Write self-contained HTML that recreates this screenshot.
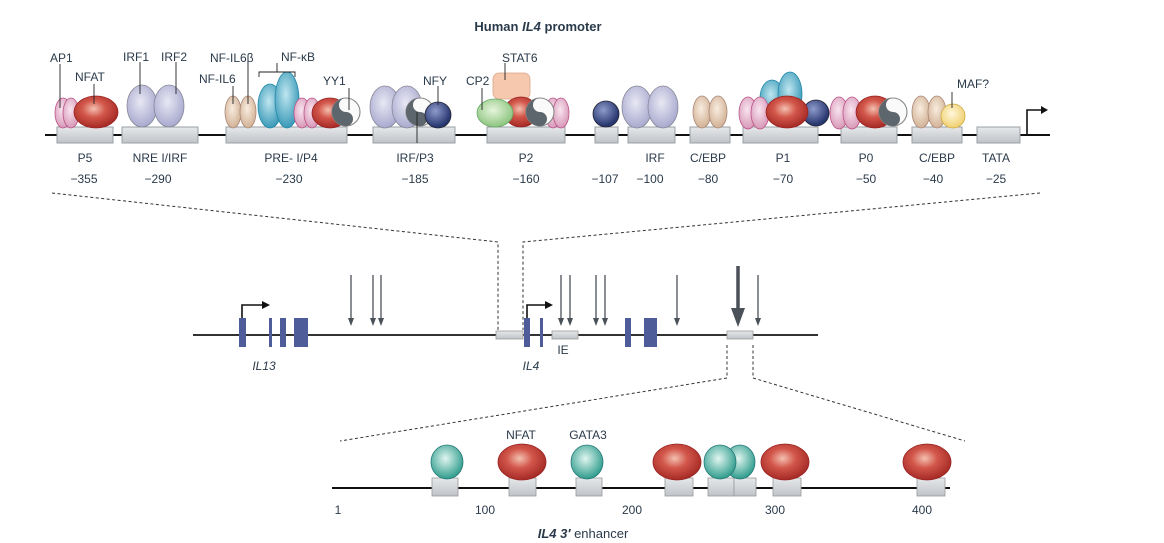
<!DOCTYPE html>
<html><head><meta charset="utf-8"><style>
html,body{margin:0;padding:0;background:#fff}
svg{display:block}
text{font-family:"Liberation Sans",sans-serif;fill:#2a3a4a}
</style></head><body>
<svg width="1164" height="543" viewBox="0 0 1164 543" xmlns="http://www.w3.org/2000/svg">
<defs>
<radialGradient id="red" cx="45%" cy="40%" r="60%"><stop offset="0" stop-color="#f3c0b0"/><stop offset="0.45" stop-color="#d2564a"/><stop offset="1" stop-color="#a52a25"/></radialGradient>
<radialGradient id="pink" cx="45%" cy="40%" r="60%"><stop offset="0" stop-color="#f8e4ef"/><stop offset="1" stop-color="#d899b8"/></radialGradient>
<radialGradient id="lav" cx="45%" cy="40%" r="60%"><stop offset="0" stop-color="#e8e8f4"/><stop offset="1" stop-color="#a9a9cf"/></radialGradient>
<radialGradient id="tan" cx="45%" cy="40%" r="60%"><stop offset="0" stop-color="#f8ecdf"/><stop offset="1" stop-color="#d2b296"/></radialGradient>
<radialGradient id="blue" cx="45%" cy="40%" r="60%"><stop offset="0" stop-color="#bfe6f0"/><stop offset="1" stop-color="#3b9ab8"/></radialGradient>
<radialGradient id="navy" cx="40%" cy="35%" r="60%"><stop offset="0" stop-color="#8d9acb"/><stop offset="1" stop-color="#27376f"/></radialGradient>
<radialGradient id="green" cx="45%" cy="40%" r="60%"><stop offset="0" stop-color="#e6f5dc"/><stop offset="1" stop-color="#8cc47e"/></radialGradient>
<radialGradient id="yel" cx="45%" cy="40%" r="60%"><stop offset="0" stop-color="#fff8dc"/><stop offset="1" stop-color="#f1cf6f"/></radialGradient>
<radialGradient id="teal" cx="45%" cy="40%" r="60%"><stop offset="0" stop-color="#e0f5f0"/><stop offset="1" stop-color="#2f9c8c"/></radialGradient>
<linearGradient id="box" x1="0" y1="0" x2="0" y2="1"><stop offset="0" stop-color="#e6e8ea"/><stop offset="1" stop-color="#bfc3c7"/></linearGradient>
<g id="yy"><circle r="1" fill="#fafafa" stroke="#888" stroke-width="0.08"/><path d="M0,-1 A1,1 0 0,0 0,1 A0.5,0.5 0 0,0 0,0 A0.5,0.5 0 0,1 0,-1Z" fill="#5d666c"/></g>
</defs>

<text x="538" y="31" font-size="13" font-weight="bold" text-anchor="middle" fill="#111">Human <tspan font-style="italic">IL4</tspan> promoter</text>

<!-- promoter line -->
<line x1="45" y1="135" x2="1050" y2="135" stroke="#111" stroke-width="2"/>
<g fill="url(#box)" stroke="#9aa0a5" stroke-width="1">
<rect x="57" y="127" width="56" height="16"/><rect x="122" y="127" width="76" height="16"/><rect x="226" y="127" width="121" height="16"/>
<rect x="373" y="127" width="82" height="16"/><rect x="487" y="127" width="78" height="16"/><rect x="595" y="127" width="23" height="16"/>
<rect x="628" y="127" width="47" height="16"/><rect x="690" y="127" width="40" height="16"/><rect x="743" y="127" width="75" height="16"/>
<rect x="841" y="127" width="56" height="16"/><rect x="912" y="127" width="50" height="16"/><rect x="977" y="127" width="43" height="16"/>
</g>
<path d="M1027,135 V110 H1043" fill="none" stroke="#111" stroke-width="1.6"/><path d="M1041,106 L1048,110 L1041,114Z" fill="#111"/>

<g stroke-width="0.8">
<!-- P5 -->
<ellipse cx="63" cy="113" rx="8" ry="15" fill="url(#pink)" stroke="#b58"/>
<ellipse cx="71" cy="113" rx="8" ry="15" fill="url(#pink)" stroke="#b58"/>
<ellipse cx="96" cy="112" rx="22" ry="16" fill="url(#red)" stroke="#922"/>
<!-- NRE -->
<ellipse cx="142" cy="106" rx="15" ry="21" fill="url(#lav)" stroke="#889"/>
<ellipse cx="169" cy="106" rx="15" ry="21" fill="url(#lav)" stroke="#889"/>
<!-- PRE -->
<ellipse cx="233" cy="112" rx="8" ry="16" fill="url(#tan)" stroke="#a87"/>
<ellipse cx="248" cy="112" rx="8" ry="16" fill="url(#tan)" stroke="#a87"/>
<ellipse cx="270" cy="106" rx="12" ry="22" fill="url(#blue)" stroke="#28a"/>
<ellipse cx="287" cy="100" rx="12" ry="28" fill="url(#blue)" stroke="#28a"/>
<ellipse cx="302" cy="113" rx="8" ry="15" fill="url(#pink)" stroke="#b58"/>
<ellipse cx="312" cy="113" rx="8" ry="15" fill="url(#pink)" stroke="#b58"/>
<ellipse cx="330" cy="113" rx="18" ry="15" fill="url(#red)" stroke="#922"/>
<use href="#yy" transform="translate(346,112) scale(14)"/>
<!-- IRF/P3 -->
<ellipse cx="385" cy="107" rx="15" ry="21" fill="url(#lav)" stroke="#889"/>
<ellipse cx="407" cy="107" rx="15" ry="21" fill="url(#lav)" stroke="#889"/>
<use href="#yy" transform="translate(420,112) scale(14)"/>
<circle cx="438" cy="115" r="13" fill="url(#navy)" stroke="#223"/>
<!-- P2 -->
<rect x="493" y="73" width="37" height="26" rx="6" fill="#f6c8ae" stroke="#d9a58a"/>
<ellipse cx="553" cy="113" rx="8" ry="15" fill="url(#pink)" stroke="#b58"/>
<ellipse cx="561" cy="113" rx="8" ry="15" fill="url(#pink)" stroke="#b58"/>
<ellipse cx="521" cy="112" rx="17" ry="15" fill="url(#red)" stroke="#922"/>
<use href="#yy" transform="translate(540,112) scale(14)"/>
<ellipse cx="495" cy="113" rx="18" ry="14" fill="url(#green)" stroke="#6a6"/>
<!-- -107 -->
<circle cx="606" cy="114" r="13" fill="url(#navy)" stroke="#223"/>
<!-- IRF -->
<ellipse cx="637" cy="107" rx="15" ry="21" fill="url(#lav)" stroke="#889"/>
<ellipse cx="663" cy="107" rx="15" ry="21" fill="url(#lav)" stroke="#889"/>
<!-- C/EBP -->
<ellipse cx="702" cy="112" rx="9" ry="16" fill="url(#tan)" stroke="#a87"/>
<ellipse cx="718" cy="112" rx="9" ry="16" fill="url(#tan)" stroke="#a87"/>
<!-- P1 -->
<ellipse cx="772" cy="98" rx="12" ry="18" fill="url(#blue)" stroke="#28a"/>
<ellipse cx="790" cy="94" rx="12" ry="22" fill="url(#blue)" stroke="#28a"/>
<ellipse cx="748" cy="113" rx="9" ry="16" fill="url(#pink)" stroke="#b58"/>
<ellipse cx="760" cy="113" rx="9" ry="16" fill="url(#pink)" stroke="#b58"/>
<circle cx="816" cy="113" r="13" fill="url(#navy)" stroke="#223"/>
<ellipse cx="787" cy="112" rx="21" ry="16" fill="url(#red)" stroke="#922"/>
<!-- P0 -->
<ellipse cx="839" cy="113" rx="9" ry="16" fill="url(#pink)" stroke="#b58"/>
<ellipse cx="852" cy="113" rx="9" ry="16" fill="url(#pink)" stroke="#b58"/>
<ellipse cx="875" cy="112" rx="19" ry="16" fill="url(#red)" stroke="#922"/>
<use href="#yy" transform="translate(893,112) scale(14)"/>
<!-- C/EBP -->
<ellipse cx="921" cy="112" rx="9" ry="16" fill="url(#tan)" stroke="#a87"/>
<ellipse cx="937" cy="112" rx="9" ry="16" fill="url(#tan)" stroke="#a87"/>
<circle cx="953" cy="116" r="12" fill="url(#yel)" stroke="#ca4"/>
</g>

<!-- label pointer lines -->
<g stroke="#222" stroke-width="0.9" fill="none">
<line x1="60" y1="64" x2="60" y2="108"/><line x1="94" y1="84" x2="94" y2="104"/>
<line x1="140" y1="62" x2="140" y2="94"/><line x1="176" y1="62" x2="176" y2="94"/>
<line x1="233" y1="86" x2="233" y2="104"/><line x1="248" y1="64" x2="248" y2="104"/>
<path d="M259,77 V72 H295 V77 M277,72 V63"/>
<line x1="349" y1="88" x2="349" y2="110"/>
<line x1="417" y1="112" x2="417" y2="143"/><line x1="438" y1="86" x2="438" y2="105"/>
<line x1="482" y1="88" x2="482" y2="110"/><line x1="505" y1="63" x2="505" y2="80"/>
<line x1="952" y1="92" x2="952" y2="108"/>
</g>

<g font-size="12">
<text x="50" y="62">AP1</text><text x="75" y="81">NFAT</text>
<text x="123" y="61">IRF1</text><text x="161" y="61">IRF2</text>
<text x="210" y="62">NF-IL6β</text><text x="199" y="83">NF-IL6</text><text x="281" y="61">NF-κB</text>
<text x="323" y="85">YY1</text><text x="423" y="85">NFY</text><text x="466" y="85">CP2</text>
<text x="502" y="62">STAT6</text><text x="957" y="88">MAF?</text>
</g>
<g font-size="12" text-anchor="middle">
<text x="85" y="162">P5</text><text x="160" y="162">NRE I/IRF</text><text x="291" y="162">PRE- I/P4</text>
<text x="415" y="162">IRF/P3</text><text x="526" y="162">P2</text><text x="655" y="162">IRF</text>
<text x="708" y="162">C/EBP</text><text x="783" y="162">P1</text><text x="866" y="162">P0</text>
<text x="937" y="162">C/EBP</text><text x="996" y="162">TATA</text>
<text x="84" y="183">−355</text><text x="158" y="183">−290</text><text x="289" y="183">−230</text>
<text x="415" y="183">−185</text><text x="526" y="183">−160</text><text x="605" y="183">−107</text>
<text x="650" y="183">−100</text><text x="708" y="183">−80</text><text x="783" y="183">−70</text>
<text x="866" y="183">−50</text><text x="933" y="183">−40</text><text x="996" y="183">−25</text>
</g>

<!-- zoom dashed lines -->
<g stroke="#333" stroke-width="1" stroke-dasharray="3,2.5" fill="none">
<path d="M52,193 L498,242 V330"/>
<path d="M1040,193 L523,242 V330"/>
<path d="M727,345 V378 L340,441"/>
<path d="M753,345 V378 L965,441"/>
</g>

<!-- gene line -->
<line x1="193" y1="335" x2="818" y2="335" stroke="#333" stroke-width="2"/>
<g fill="#4e5d99">
<rect x="239" y="318" width="7" height="29"/><rect x="269" y="318" width="3" height="29"/><rect x="280" y="318" width="6" height="29"/><rect x="294" y="318" width="14" height="29"/>
<rect x="524" y="318" width="6" height="29"/><rect x="540" y="318" width="3" height="29"/>
<rect x="625" y="318" width="6" height="29"/><rect x="644" y="318" width="13" height="29"/>
</g>
<g fill="url(#box)" stroke="#999" stroke-width="0.8">
<rect x="496" y="331" width="27" height="8"/><rect x="552" y="331" width="26" height="8"/><rect x="727" y="331" width="26" height="8"/>
</g>
<g stroke="#111" stroke-width="1.6" fill="none"><path d="M242,318 V305 H264"/><path d="M527,318 V305 H547"/></g>
<path d="M262,301 L270,305 L262,309Z" fill="#111"/><path d="M545,301 L553,305 L545,309Z" fill="#111"/>
<g stroke="#4a5158" stroke-width="1.3">
<line x1="351" y1="275" x2="351" y2="322"/><line x1="373" y1="275" x2="373" y2="322"/><line x1="381" y1="275" x2="381" y2="322"/>
<line x1="561" y1="275" x2="561" y2="322"/><line x1="570" y1="275" x2="570" y2="322"/>
<line x1="596" y1="275" x2="596" y2="322"/><line x1="605" y1="275" x2="605" y2="322"/>
<line x1="677" y1="275" x2="677" y2="322"/><line x1="758" y1="275" x2="758" y2="322"/>
<line x1="738" y1="266" x2="738" y2="312" stroke-width="3.5"/>
</g>
<g fill="#4a5158">
<path d="M348,318 L354,318 L351,326Z"/><path d="M370,318 L376,318 L373,326Z"/><path d="M378,318 L384,318 L381,326Z"/>
<path d="M558,318 L564,318 L561,326Z"/><path d="M567,318 L573,318 L570,326Z"/>
<path d="M593,318 L599,318 L596,326Z"/><path d="M602,318 L608,318 L605,326Z"/>
<path d="M674,318 L680,318 L677,326Z"/><path d="M755,318 L761,318 L758,326Z"/>
<path d="M731,308 L745,308 L738,327Z"/>
</g>
<g font-size="12"><text x="264" y="370" text-anchor="middle" font-style="italic">IL13</text><text x="531" y="370" text-anchor="middle" font-style="italic">IL4</text><text x="563" y="354" text-anchor="middle">IE</text></g>

<!-- enhancer -->
<line x1="332" y1="488" x2="950" y2="488" stroke="#111" stroke-width="2"/>
<g fill="url(#box)" stroke="#999" stroke-width="0.8">
<rect x="432" y="478" width="26" height="18"/><rect x="509" y="478" width="27" height="18"/><rect x="576" y="478" width="26" height="18"/>
<rect x="665" y="478" width="28" height="18"/><rect x="708" y="478" width="26" height="18"/><rect x="734" y="478" width="22" height="18"/>
<rect x="773" y="478" width="28" height="18"/><rect x="917" y="478" width="28" height="18"/>
</g>
<g stroke-width="0.8">
<ellipse cx="447" cy="462" rx="16" ry="17" fill="url(#teal)" stroke="#277"/>
<ellipse cx="522" cy="462" rx="24" ry="18" fill="url(#red)" stroke="#922"/>
<ellipse cx="587" cy="462" rx="16" ry="17" fill="url(#teal)" stroke="#277"/>
<ellipse cx="677" cy="462" rx="24" ry="18" fill="url(#red)" stroke="#922"/>
<ellipse cx="740" cy="462" rx="15" ry="17" fill="url(#teal)" stroke="#277"/>
<ellipse cx="720" cy="462" rx="16" ry="17" fill="url(#teal)" stroke="#277"/>
<ellipse cx="785" cy="462" rx="24" ry="18" fill="url(#red)" stroke="#922"/>
<ellipse cx="927" cy="462" rx="24" ry="18" fill="url(#red)" stroke="#922"/>
</g>
<g font-size="12" text-anchor="middle">
<text x="521" y="439">NFAT</text><text x="588" y="439">GATA3</text>
<text x="338" y="514">1</text><text x="485" y="514">100</text><text x="632" y="514">200</text><text x="775" y="514">300</text><text x="922" y="514">400</text>
<text x="583" y="538" font-size="13" fill="#111"><tspan font-weight="bold" font-style="italic">IL4 3′</tspan> enhancer</text>
</g>
</svg>
</body></html>
